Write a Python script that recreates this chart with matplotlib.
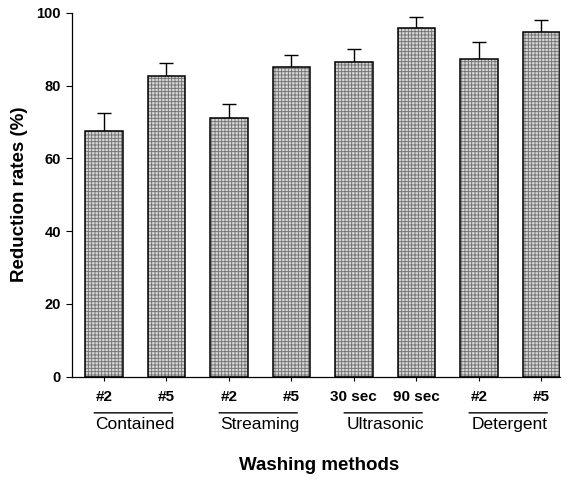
import numpy as np
import matplotlib
matplotlib.use("Agg")
import matplotlib.pyplot as plt

plt.rcParams['font.family'] = ['Liberation Sans', 'DejaVu Sans']
plt.rcParams['hatch.linewidth'] = 0.6

tick_labels = ["#2", "#5", "#2", "#5", "30 sec", "90 sec", "#2", "#5"]
groups = ["Contained", "Streaming", "Ultrasonic", "Detergent"]
means = [67.6, 82.7, 71.0, 85.1, 86.5, 95.9, 87.3, 94.9]
errors = [4.8, 3.5, 3.9, 3.3, 3.6, 3.0, 4.7, 3.2]

fig = plt.figure(figsize=(5.67, 4.84), dpi=100)
ax = fig.add_axes([72/567, 1 - 376.5/484, (560 - 72)/567, (376.5 - 13)/484])

x = np.arange(len(means))
w = 0.6
# grey crosshatched fill, then black outline on top
ax.bar(x, means, width=w, color="#d4d4d4", edgecolor="#707070",
       hatch="+++++", linewidth=0, zorder=2)
ax.bar(x, means, width=w, fill=False, edgecolor="black", linewidth=1.1, zorder=3)
ax.errorbar(x, means, yerr=[np.zeros(len(errors)), errors], fmt="none",
            ecolor="black", elinewidth=1.0, capsize=5, capthick=1.0, zorder=1)

ax.set_xlim(-0.51, 7.3)
ax.set_ylim(0, 100)
ax.set_yticks([0, 20, 40, 60, 80, 100])
ax.set_yticklabels(["0", "20", "40", "60", "80", "100"], fontsize=10.5, fontweight="bold")
ax.set_xticks(x)
ax.set_xticklabels(tick_labels, fontsize=11, fontweight="bold")
ax.tick_params(axis="y", length=4, width=0.8, pad=4)
ax.tick_params(axis="x", length=3, width=0.8, pad=7)
for s in ["top", "right"]:
    ax.spines[s].set_visible(False)
ax.spines["left"].set_linewidth(0.9)
ax.spines["bottom"].set_linewidth(0.9)

# group labels with a line above each pair
for i, g in enumerate(groups):
    x0, x1 = 2*i - 0.2, 2*i + 1 + 0.14
    ax.annotate("", xy=(x0, -0.1), xycoords=("data", "axes fraction"),
                xytext=(x1, -0.1), textcoords=("data", "axes fraction"),
                arrowprops=dict(arrowstyle="-", color="black", lw=1.0))
    ax.text(2*i + 0.5, -0.112, g, transform=ax.get_xaxis_transform(),
            ha="center", va="top", fontsize=12.5)

ax.set_ylabel("Reduction rates (%)", fontsize=13.5, fontweight="bold", labelpad=6)
fig.text(319/567, 1 - 466/484, "Washing methods", ha="center", va="center",
         fontsize=13.5, fontweight="bold")

fig.savefig("out.png", dpi=100)
